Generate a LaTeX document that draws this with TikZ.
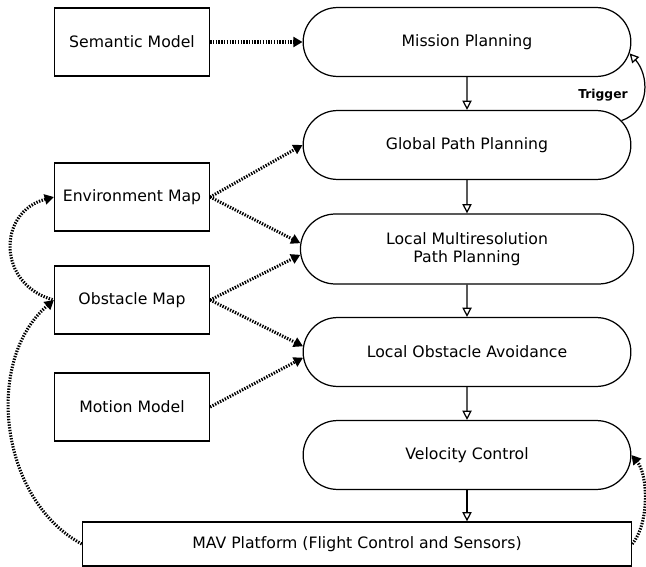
\documentclass[tikz,border=0pt]{standalone}
\usepackage{fontspec}
\setmainfont{DejaVu Sans}
\usetikzlibrary{arrows.meta,shapes.misc}

\begin{document}
\begin{tikzpicture}[x=0.65pt,y=-0.65pt,font=\fontsize{10.2}{11.7}\selectfont,
  blk/.style={draw,thick,minimum width=100.75pt,minimum height=44.2pt,inner sep=0pt},
  stage/.style={draw,thick,rounded rectangle,minimum width=213pt,minimum height=44.8pt,inner sep=0pt,align=center},
  flow/.style={thick,-{Triangle[open,length=6pt,width=6pt]}},
  feed/.style={line width=2pt,dash pattern=on 0.9pt off 0.9pt,-{Triangle[length=6pt,width=6.5pt]}}]
\useasboundingbox (0,0) rectangle (646,567);
% inputs on the left
\node[blk] (sem) at (132,42) {Semantic Model};
\node[blk] (env) at (132,197) {Environment Map};
\node[blk] (obs) at (132,300) {Obstacle Map};
\node[blk] (mot) at (132,407) {Motion Model};
% planning chain
\node[stage] (mis) at (467,42) {Mission Planning};
\node[stage] (gpp) at (467,145) {Global Path Planning};
\node[stage,minimum width=216.5pt,minimum height=45.5pt] (lmr) at (467,249) {Local Multiresolution\\Path Planning};
\node[stage] (loa) at (467,352) {Local Obstacle Avoidance};
\node[stage] (vel) at (467,455) {Velocity Control};
\node[draw,thick,minimum width=357pt,minimum height=28.6pt,inner sep=0pt] (mav) at (357,544) {MAV Platform (Flight Control and Sensors)};
\node[font=\bfseries\fontsize{8}{10}\selectfont] (trig) at (603,95) {Trigger};

\draw[flow] (mis) -- (gpp);
\draw[flow] (gpp) -- (lmr);
\draw[flow] (lmr) -- (loa);
\draw[flow] (loa) -- (vel);
\draw[flow] (vel.south) -- (vel.south |- mav.north);
\draw[flow] (gpp.9) .. controls +(30,-10) and +(19,21) .. (mis.-4);

\draw[feed] (sem.east) -- (mis.west);
\draw[feed] (env.east) -- (gpp.west);
\draw[feed] (env.east) -- (lmr.178);
\draw[feed] (obs.east) -- (lmr.182);
\draw[feed] (obs.east) -- (loa.178);
\draw[feed] (mot.east) -- (loa.182);
\draw[feed,{Triangle[length=6pt,width=6.5pt]}-] (env.west) .. controls +(-57,15) and +(-57,-15) .. (obs.west);
\draw[feed] (mav.west) .. controls +(-83,-45) and +(-70,60) .. (obs.west);
\draw[feed] (mav.east) .. controls +(17,-20) and +(17,20) .. (vel.east);
\end{tikzpicture}
\end{document}
